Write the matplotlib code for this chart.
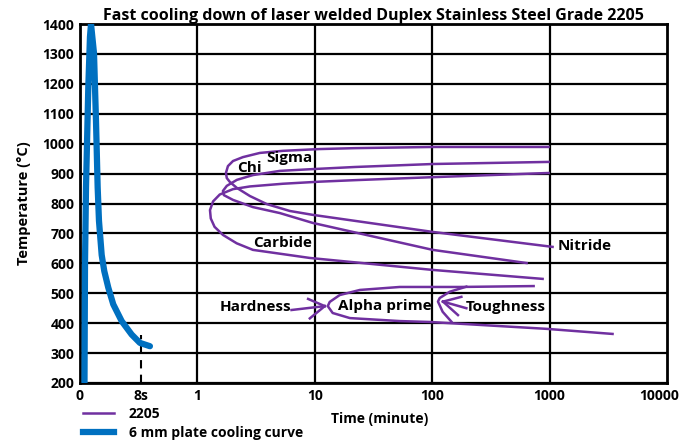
import matplotlib
matplotlib.use('Agg')
import matplotlib.pyplot as plt
import matplotlib.transforms as mtransforms
from matplotlib.lines import Line2D

plt.rcParams['font.family'] = ['Open Sans', 'DejaVu Sans']
plt.rcParams['font.weight'] = 'bold'

PURPLE = '#7030A0'
BLUE = '#0070C0'

# 6 mm plate cooling curve (time in minutes, temperature in C)
cool_t = [0.1092, 0.1103, 0.1125, 0.1177, 0.1216, 0.1241, 0.1316, 0.1368, 0.1414,
          0.1451, 0.1530, 0.1610, 0.1741, 0.1920, 0.2264, 0.2754, 0.3241, 0.3942]
cool_T = [200, 600, 854, 1190, 1357, 1400, 1302, 1078, 854,
          742, 628, 574, 519, 463, 407, 362, 334, 323]

# precipitation C-curves for 2205
chi_t = [980, 101, 21.9, 11.0, 5.34, 3.40, 2.44, 2.01, 1.82, 1.75, 1.78, 1.89, 2.17,
         2.80, 3.90, 6.13, 9.62, 101, 1060]
chi_T = [989, 989, 985, 982, 976, 969, 955, 942, 925, 902, 885, 872, 852,
         825, 798, 775, 762, 705, 655]

sigma_t = [980, 101, 21.9, 9.62, 5.04, 2.97, 2.17, 1.78, 1.65, 1.68, 2.01, 2.97,
           5.04, 9.62, 101, 637]
sigma_T = [939, 932, 922, 915, 909, 895, 879, 859, 842, 828, 812, 788,
           768, 735, 645, 601]

carb_t = [980, 101, 21.9, 11.0, 5.34, 2.80, 2.01, 1.55, 1.36, 1.28, 1.30, 1.40,
          1.65, 2.16, 2.97, 9.07, 101, 872]
carb_T = [902, 888, 878, 873, 866, 857, 848, 830, 807, 778, 750, 722,
          695, 667, 645, 618, 578, 548]

alpha_t = [731, 171, 52.9, 24.2, 16.3, 13.4, 12.9, 14.2, 19.9, 52.9, 95.2, 943, 3437]
alpha_T = [524, 521, 521, 511, 494, 471, 457, 434, 417, 407, 404, 381, 364]

tough_t = [195.4, 140.9, 115.8, 112.0, 122.8, 145.7]
tough_T = [522, 505, 484, 472, 438, 405]

# arrows (shaft + two head strokes)
tough_arrow_t = [[195.4, 123.6], [123.6, 177.2], [123.6, 165.8]]
tough_arrow_T = [[450, 472], [472, 488], [472, 427]]
hard_arrow_t = [[6.335, 12.16], [12.16, 8.77], [12.16, 9.07]]
hard_arrow_T = [[444, 457], [457, 481], [457, 416]]

marker_8s = 0.33
marker_T = [200, 360]

labels = ['Chi', 'Sigma', 'Carbide', 'Nitride', 'Hardness', 'Alpha prime', 'Toughness']
label_t = [2.80, 6.13, 5.34, 1170, 3.15, 39.4, 422]
label_T = [919, 952, 668, 658, 454, 457, 454]
label_ha = ['center', 'center', 'center', 'left', 'center', 'center', 'center']

xticks = [0.1, marker_8s, 1, 10, 100, 1000, 10000]
xtick_labels = ['0', '8s', '1', '10', '100', '1000', '10000']
yticks = list(range(200, 1401, 100))

fig = plt.figure(figsize=(6.85, 4.42), dpi=100)
ax = fig.add_axes([80 / 685, 1 - 383 / 442, 587 / 685, 359 / 442])

ax.set_xscale('log')
ax.set_xlim(0.1, 10000)
ax.set_ylim(200, 1400)

for y in yticks:
    ax.axhline(y, color='black', lw=1.6, zorder=1)
for x in [1, 10, 100, 1000]:
    ax.axvline(x, color='black', lw=1.6, zorder=1)

lw = 1.8
ax.plot(chi_t, chi_T, color=PURPLE, lw=lw, zorder=3)
ax.plot(sigma_t, sigma_T, color=PURPLE, lw=lw, zorder=3)
ax.plot(carb_t, carb_T, color=PURPLE, lw=lw, zorder=3)
ax.plot(alpha_t, alpha_T, color=PURPLE, lw=lw, zorder=3)
ax.plot(tough_t, tough_T, color=PURPLE, lw=lw, zorder=3)
for xs, ys in zip(tough_arrow_t + hard_arrow_t, tough_arrow_T + hard_arrow_T):
    ax.plot(xs, ys, color=PURPLE, lw=lw, zorder=3)

ax.plot([marker_8s, marker_8s], marker_T, color='black', lw=1.5, ls=(0, (4, 3)), zorder=2)
ax.plot(cool_t, cool_T, color=BLUE, lw=4.5, solid_capstyle='round',
        solid_joinstyle='round', zorder=4)

for txt, x, y, ha in zip(labels, label_t, label_T, label_ha):
    ax.text(x, y, txt, ha=ha, va='center', fontsize=11, fontweight='bold', zorder=5)

ax.set_xticks(xticks)
ax.set_xticklabels(xtick_labels)
ax.minorticks_off()
ax.set_yticks(yticks)
ax.tick_params(axis='both', length=0, labelsize=10, pad=4)
for lab in ax.get_xticklabels() + ax.get_yticklabels():
    lab.set_fontweight('bold')

# keep the last x label inside the figure, like the reference
last = ax.get_xticklabels()[-1]
last.set_transform(last.get_transform() +
                   mtransforms.ScaledTranslation(-6 / 72, 0, fig.dpi_scale_trans))

for s in ax.spines.values():
    s.set_linewidth(2)
    s.set_color('black')

ax.set_title('Fast cooling down of laser welded Duplex Stainless Steel Grade 2205',
             fontsize=11.5, fontweight='bold', pad=3)
ax.set_xlabel('Time (minute)', fontsize=10, fontweight='bold')
ax.xaxis.set_label_coords(0.511, -0.081)
ax.set_ylabel('Temperature (\u00b0C)', fontsize=10.5, fontweight='bold', labelpad=8)

handles = [Line2D([], [], color=PURPLE, lw=1.8),
           Line2D([], [], color=BLUE, lw=4.5)]
fig.legend(handles, ['2205', '6 mm plate cooling curve'], loc='upper left',
           bbox_to_anchor=(83 / 685, 1 - 407 / 442), frameon=False,
           borderpad=0, borderaxespad=0, handlelength=2.2, handletextpad=1.1,
           labelspacing=0.35, prop={'weight': 'bold', 'size': 10})

fig.savefig('out.png', dpi=100, facecolor='white')
